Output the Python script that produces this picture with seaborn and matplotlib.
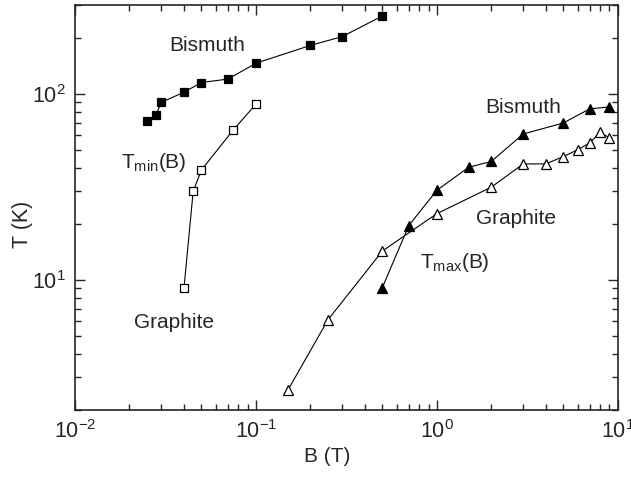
import matplotlib
matplotlib.use("Agg")
import matplotlib.pyplot as plt
import seaborn as sns

# T_min(B), bismuth (filled squares)
b_bi_min = [0.025, 0.028, 0.03, 0.04, 0.05, 0.07, 0.1, 0.2, 0.3, 0.5]
t_bi_min = [71, 77, 90, 102, 115, 120, 146, 182, 203, 262]

# T_min(B), graphite (open squares)
b_gr_min = [0.04, 0.045, 0.05, 0.075, 0.1]
t_gr_min = [9.0, 30, 39, 64, 88]

# T_max(B), bismuth (filled triangles)
b_bi_max = [0.5, 0.7, 1.0, 1.5, 2.0, 3.0, 5.0, 7.0, 9.0]
t_bi_max = [9.1, 19.6, 30.3, 40.3, 43.3, 60.8, 69.7, 83, 85]

# T_max(B), graphite (open triangles)
b_gr_max = [0.15, 0.25, 0.5, 1.0, 2.0, 3.0, 4.0, 5.0, 6.0, 7.0, 8.0, 9.0]
t_gr_max = [2.55, 6.1, 14.3, 22.7, 31.5, 42, 42, 46, 50, 54.5, 62, 58]

sns.set_style("ticks")
plt.rcParams['font.family'] = ['Liberation Sans', 'DejaVu Sans']
plt.rcParams['mathtext.fontset'] = 'custom'
plt.rcParams['mathtext.rm'] = 'Liberation Sans'
plt.rcParams['mathtext.it'] = 'Liberation Sans:italic'

fig = plt.figure(figsize=(6.31, 4.78), dpi=100)
ax = fig.add_axes([0.1189, 0.1423, 0.979 - 0.1189, 0.9895 - 0.1423])

series = [
    (b_bi_min, t_bi_min, 's', 'black', 5.5),
    (b_gr_min, t_gr_min, 's', 'white', 5.5),
    (b_bi_max, t_bi_max, '^', 'black', 6.5),
    (b_gr_max, t_gr_max, '^', 'white', 6.5),
]
for bx, ty, mk, fc, ms in series:
    sns.lineplot(x=bx, y=ty, ax=ax, color='black', lw=0.8, sort=False,
                 estimator=None, marker=mk, markersize=ms,
                 markerfacecolor=fc, markeredgecolor='black', markeredgewidth=0.9)

ax.set_xscale('log')
ax.set_yscale('log')
ax.set_xlim(1e-2, 1e1)
ax.set_ylim(2, 300)

ax.tick_params(which='both', direction='in', top=True, right=True, labelsize=15.5,
               width=1.0, pad=7)
ax.tick_params(which='major', length=7)
ax.tick_params(which='minor', length=4)
for sp in ax.spines.values():
    sp.set_linewidth(1.2)

ax.set_xlabel('B (T)', fontsize=15)
ax.set_ylabel('T (K)', fontsize=15.5)
ax.xaxis.set_label_coords(0.464, -0.091)
ax.yaxis.set_label_coords(-0.077, 0.459)

tkw = dict(fontsize=15, ha='center', va='center', transform=ax.transAxes)
ax.text(0.243, 0.901, 'Bismuth', **tkw)
ax.text(0.146, 0.612, r'T$_{\mathrm{min}}$(B)', **tkw)
ax.text(0.182, 0.217, 'Graphite', **tkw)
ax.text(0.826, 0.748, 'Bismuth', **tkw)
ax.text(0.812, 0.472, 'Graphite', **tkw)
ax.text(0.700, 0.365, r'T$_{\mathrm{max}}$(B)', **tkw)

plt.savefig('out.png', dpi=100)
